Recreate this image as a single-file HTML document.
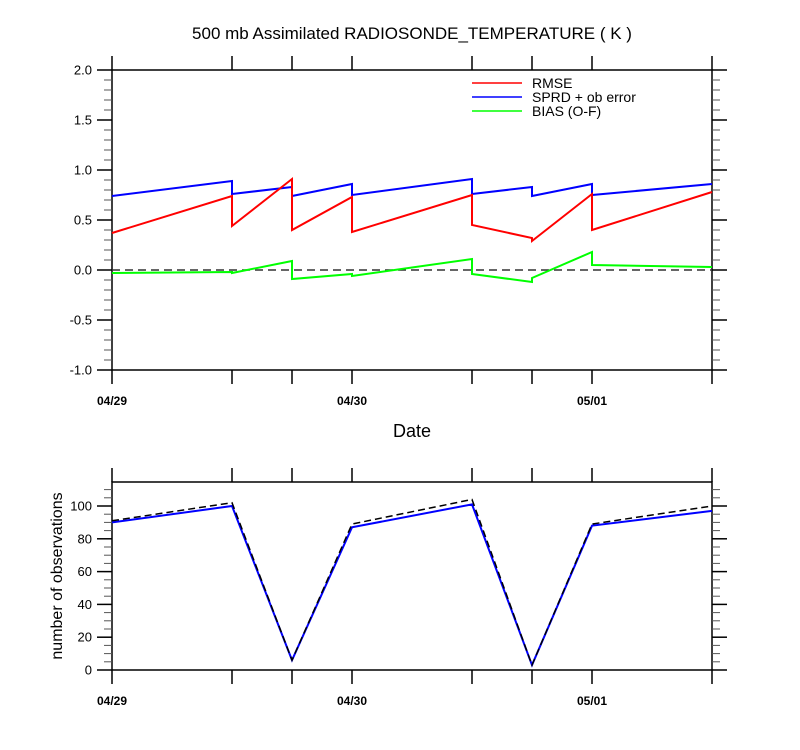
<!DOCTYPE html>
<html><head><meta charset="utf-8"><style>
html,body{margin:0;padding:0;background:#fff;width:800px;height:750px;overflow:hidden}
svg{display:block;font-family:"Liberation Sans",Arial,sans-serif}
</style></head><body>
<svg id="c" width="800" height="750" viewBox="0 0 800 750">
<text x="412" y="39" text-anchor="middle" font-size="17">500 mb Assimilated RADIOSONDE_TEMPERATURE ( K )</text>
<text x="412" y="437" text-anchor="middle" font-size="18">Date</text>
<text transform="translate(62,576) rotate(-90)" text-anchor="middle" font-size="16">number of observations</text>
<g>
<line x1="472" y1="83" x2="522" y2="83" stroke="#ff0000" stroke-width="1.5"/>
<text x="532" y="88" font-size="14">RMSE</text>
<line x1="472" y1="97" x2="522" y2="97" stroke="#0000ff" stroke-width="1.5"/>
<text x="532" y="102" font-size="14">SPRD + ob error</text>
<line x1="472" y1="111" x2="522" y2="111" stroke="#00ff00" stroke-width="1.5"/>
<text x="532" y="116" font-size="14">BIAS (O-F)</text>
</g>
</svg>
<script>
// time in hours from 04/29 00Z
const times = [0, 12, 18, 24, 36, 42, 48, 60];
const dateLabels = ["04/29", "04/30", "05/01"];
const dateLabelHours = [0, 24, 48];
// sawtooth: value at end of each interval (before jump) and start (after jump)
const rmseStart = [0.37, 0.44, 0.40, 0.38, 0.45, 0.29, 0.40];
const rmseEnd   = [0.74, 0.91, 0.73, 0.75, 0.32, 0.76, 0.78];
const sprdStart = [0.74, 0.76, 0.74, 0.75, 0.76, 0.74, 0.75];
const sprdEnd   = [0.89, 0.83, 0.86, 0.91, 0.83, 0.86, 0.86];
const biasStart = [-0.03, -0.03, -0.09, -0.06, -0.04, -0.08, 0.05];
const biasEnd   = [-0.02, 0.09, -0.04, 0.11, -0.12, 0.18, 0.03];
const obsUsed   = [90, 100, 6, 87, 101, 3, 88, 97];
const obsTotal  = [91, 102, 6, 89, 104, 3, 89, 100];
const topTicks = ["-1.0","-0.5","0.0","0.5","1.0","1.5","2.0"];
const botTicks = ["0","20","40","60","80","100"];

const svg = document.getElementById('c');
const NS = 'http://www.w3.org/2000/svg';
function mk(tag, attrs, parent){const e=document.createElementNS(NS,tag);for(const k in attrs)e.setAttribute(k,attrs[k]);(parent||svg).appendChild(e);return e;}
const X0=112, X1=712;
const xs = h => X0 + (h/60)*(X1-X0);
const yTop = v => 270 - v*100;
const yBot = v => 670 - v*1.64;

function frame(top,bottom,yMinTicks,yFn,labels,labelVals,name){
  const g = mk('g',{});
  
  
  mk('rect',{x:X0,y:top,width:X1-X0,height:bottom-top,fill:'none',stroke:'#000','stroke-width':1.5},g);
  times.forEach(h=>{
    mk('line',{x1:xs(h),y1:top,x2:xs(h),y2:top-14,stroke:'#000','stroke-width':1.5},g);
    mk('line',{x1:xs(h),y1:bottom,x2:xs(h),y2:bottom+14,stroke:'#000','stroke-width':1.5},g);
  });
  yMinTicks.forEach(v=>{const y=yFn(v);
    mk('line',{x1:X0,y1:y,x2:X0-8,y2:y,stroke:'#555','stroke-width':1},g);
    mk('line',{x1:X1,y1:y,x2:X1+8,y2:y,stroke:'#555','stroke-width':1},g);});
  labels.forEach((t,i)=>{const y=yFn(labelVals[i]);
    mk('line',{x1:X0,y1:y,x2:X0-15,y2:y,stroke:'#000','stroke-width':1.5},g);
    mk('line',{x1:X1,y1:y,x2:X1+15,y2:y,stroke:'#000','stroke-width':1.5},g);
    const tx=mk('text',{x:X0-20,y:y+4.5,'text-anchor':'end','font-size':13},g);tx.textContent=t;
    
    });
  dateLabels.forEach((t,i)=>{const tx=mk('text',{x:xs(dateLabelHours[i]),y:bottom+35,'text-anchor':'middle','font-size':12,'font-weight':'bold'},g);tx.textContent=t;
    
    });
}
const tMin=[];for(let v=-1;v<=2.0001;v+=0.1)tMin.push(+v.toFixed(1));
frame(70,370,tMin,yTop,topTicks,topTicks.map(Number),'top-plot');
const bMin=[];for(let v=0;v<=110;v+=5)bMin.push(v);
frame(482,670,bMin,yBot,botTicks,botTicks.map(Number),'bottom-plot');

// zero line
const z=mk('line',{x1:X0,y1:yTop(0),x2:X1,y2:yTop(0),stroke:'#333','stroke-width':1.5,'stroke-dasharray':'8,5'});



function saw(st,en,color,name){
  let d='';
  for(let i=0;i<st.length;i++){
    d += (i===0?'M':'L')+xs(times[i])+','+yTop(st[i])+' L'+xs(times[i+1])+','+yTop(en[i])+' ';
  }
  const p=mk('path',{d:d,fill:'none',stroke:color,'stroke-width':2});
  
  
}
saw(sprdStart,sprdEnd,'#0000ff','sprd-line');
saw(rmseStart,rmseEnd,'#ff0000','rmse-line');
saw(biasStart,biasEnd,'#00ff00','bias-line');

function line(vals,color,dash,name,w){
  const pts=vals.map((v,i)=>xs(times[i])+','+yBot(v)).join(' ');
  const a={points:pts,fill:'none',stroke:color,'stroke-width':w};
  if(dash)a['stroke-dasharray']=dash;
  const p=mk('polyline',a);
  
  
}
line(obsUsed,'#0000ff',null,'obs-used-line',2);
line(obsTotal,'#000',"7,4",'obs-total-line',1.5);
</script>
</body></html>
